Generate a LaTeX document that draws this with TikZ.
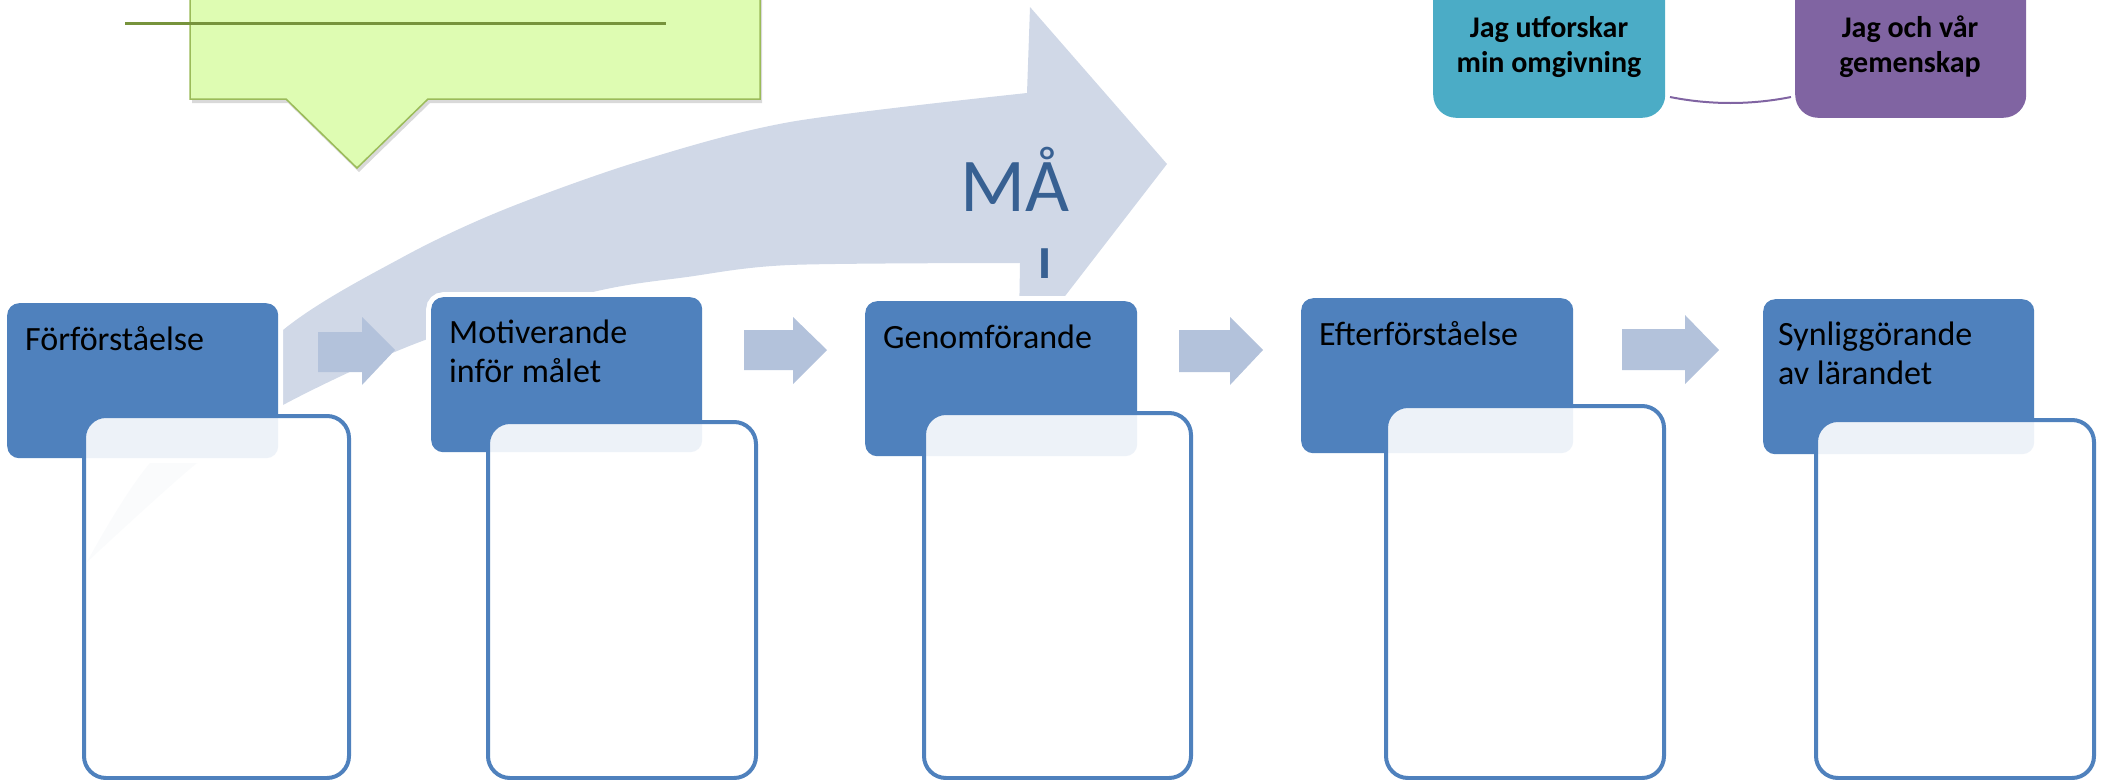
\documentclass[tikz,border=0pt]{standalone}
\usepackage{fontspec}
\setmainfont{Carlito}
\usetikzlibrary{shadows}
\definecolor{boxblue}{HTML}{4F81BD}
\definecolor{bigarrow}{HTML}{D0D8E7}
\definecolor{smallarrow}{HTML}{B3C2DB}
\definecolor{calloutfill}{HTML}{DEFCB2}
\definecolor{calloutdraw}{HTML}{9BBB59}
\definecolor{calloutline}{HTML}{77933C}
\definecolor{goaltext}{HTML}{376092}
\definecolor{tealbox}{HTML}{4BACC6}
\definecolor{purplebox}{HTML}{8064A2}
\begin{document}
\begin{tikzpicture}[x=1pt,y=-1pt,
  bluebox/.style={rectangle, rounded corners=12pt, fill=boxblue, inner sep=0pt, anchor=north west,
    preaction={draw=white, line width=10pt}},
  whitebox/.style={rectangle, rounded corners=22pt, draw=boxblue, line width=4pt, fill=white,
    fill opacity=0.9, inner sep=0pt, anchor=north west},
  lbl/.style={inner sep=0pt, anchor=base west, text=black, font=\fontsize{34pt}{39pt}\selectfont},
  smallarr/.style={fill=smallarrow},
  goal/.style={inner sep=0pt, anchor=base west, text=goaltext, font=\fontsize{76pt}{91pt}\selectfont},
  topbox/.style={rectangle, rounded corners=23pt, inner sep=0pt, anchor=south west},
  toptext/.style={inner sep=0pt, anchor=base, text=black, font=\fontsize{30pt}{35pt}\bfseries}
]
\useasboundingbox (0,0) rectangle (2111,779);
\clip (0,0) rectangle (2111,779);

% big curved arrow
\fill[bigarrow] plot[smooth] coordinates {(87,562) (150,463) (283,330) (403,257) (503,210) (637,162) (790,122) (1027,93)}
  -- (1030,7) -- (1167,164) -- (1045,322) -- (1019,322)
  -- plot[smooth] coordinates {(1020,263) (790,265) (687,277) (593,292) (425,340) (283,405) (197,463) (87,562)} -- cycle;

% goal text on the arrow
\node[goal] (goal1) at (960,211) {MÅ};
\begin{scope}
  \clip (1020,230) rectangle (1070,277);
  \node[goal] (goal2) at (1036,297) {L};
\end{scope}

% callout
\filldraw[fill=calloutfill, draw=calloutdraw, line width=1.5pt,
  drop shadow={shadow xshift=2pt, shadow yshift=-4pt, opacity=0.3}]
  (190,-60) -- (760,-60) -- (760,99) -- (428,99) -- (357,168) -- (286,99) -- (190,99) -- cycle;
\draw[calloutline, line width=3pt] (125,23) -- (666,23);

% small arrows between steps
\fill[smallarr] (318,332) -- (362,332) -- (362,317) -- (395,350) -- (362,385) -- (362,372) -- (318,372) -- cycle;
\fill[smallarr] (744,330) -- (793,330) -- (793,317) -- (827,350) -- (793,384) -- (793,370) -- (744,370) -- cycle;
\fill[smallarr] (1179,330) -- (1230,330) -- (1230,317) -- (1263,350) -- (1230,385) -- (1230,372) -- (1179,372) -- cycle;
\fill[smallarr] (1622,329) -- (1685,329) -- (1685,315) -- (1719,350) -- (1685,384) -- (1685,370) -- (1622,370) -- cycle;

% blue step boxes
\node[bluebox, minimum width=271pt, minimum height=155pt] (b1) at (7,303) {};
\node[bluebox, minimum width=271pt, minimum height=155pt] (b2) at (431,297) {};
\node[bluebox, minimum width=272pt, minimum height=155pt] (b3) at (865,301) {};
\node[bluebox, minimum width=272pt, minimum height=155pt] (b4) at (1301,298) {};
\node[bluebox, minimum width=271pt, minimum height=155pt] (b5) at (1763,299) {};

% white content boxes
\node[whitebox, minimum width=265pt, minimum height=362pt] (w1) at (82,414) {};
\node[whitebox, minimum width=268pt, minimum height=356pt] (w2) at (486,420) {};
\node[whitebox, minimum width=267pt, minimum height=365pt] (w3) at (922,411) {};
\node[whitebox, minimum width=278pt, minimum height=372pt] (w4) at (1384,404) {};
\node[whitebox, minimum width=278pt, minimum height=358pt] (w5) at (1814,418) {};

% step labels
\node[lbl] (l1) at (25,350) {Förförståelse};
\node[lbl] (l2) at (449,343) {\begin{tabular}[t]{@{}l@{}}Motiverande\\inför målet\end{tabular}};
\node[lbl] (l3) at (883,348) {Genomförande};
\node[lbl] (l4) at (1319,345) {Efterförståelse};
\node[lbl] (l5) at (1778,345) {\begin{tabular}[t]{@{}l@{}}Synliggörande\\av lärandet\end{tabular}};

% top right boxes
\node[topbox, fill=tealbox, minimum width=232pt, minimum height=170pt] (t1) at (1433,118) {};
\node[topbox, fill=purplebox, minimum width=231pt, minimum height=170pt] (t2) at (1795,118) {};
\node[toptext] (tt1) at (1549,37) {\begin{tabular}[t]{@{}c@{}}Jag utforskar\\min omgivning\end{tabular}};
\node[toptext] (tt2) at (1910,37) {\begin{tabular}[t]{@{}c@{}}Jag och vår\\gemenskap\end{tabular}};
\coordinate (c1) at (1670,97);
\coordinate (c2) at (1791,97);
\draw[purplebox, line width=2pt] (c1) .. controls +(40,8) and +(-40,8) .. (c2);
\end{tikzpicture}
\end{document}
